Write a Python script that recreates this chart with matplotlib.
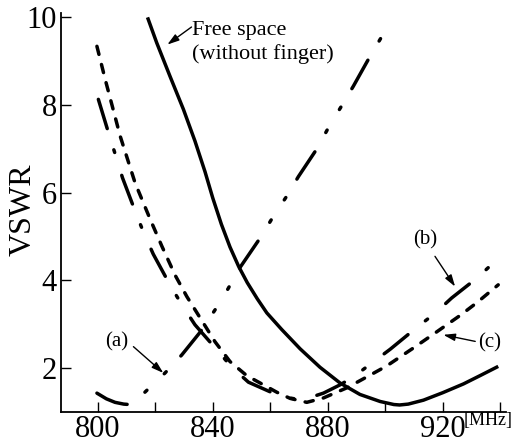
import matplotlib
matplotlib.use("Agg")
import matplotlib.pyplot as plt

plt.rcParams['font.family'] = ['Liberation Serif', 'DejaVu Serif']

# free space (without finger)
freq_free = [817.3, 820.5, 825.1, 829.8, 833.8, 837.3, 840, 843, 846, 849, 852, 855.5, 858.8,
             864, 870.4, 877.3, 884.3, 891.2, 898.2, 903, 905, 908, 913.3, 920, 927.2, 933, 939.3]
vswr_free = [10.0, 9.42, 8.66, 7.90, 7.18, 6.48, 5.88, 5.28, 4.76, 4.32, 3.95, 3.58, 3.26,
             2.88, 2.44, 2.02, 1.66, 1.40, 1.24, 1.17, 1.16, 1.18, 1.27, 1.44, 1.64, 1.83, 2.04]

# (a)
freq_a = [799.7, 803, 806, 809, 811, 814, 817, 823.4, 829.2, 835.6, 840.8, 845.4,
          848.9, 856.5, 860.5, 865.5, 869.8, 876.2, 880.2, 884.9, 888.9, 894.7, 899.4]
vswr_a = [1.43, 1.30, 1.22, 1.18, 1.17, 1.30, 1.49, 1.89, 2.30, 2.82, 3.33, 3.82,
          4.24, 4.97, 5.40, 5.90, 6.37, 7.0, 7.48, 7.99, 8.43, 9.11, 9.63]

# (b)
freq_b = [800.2, 803.9, 806.3, 808.6, 813, 815.9, 819.3, 825.1, 829.2, 833.8, 841.4, 846.5,
          852.4, 863.4, 871, 878.5, 884.3, 888.9, 901.7, 911, 917.3, 923.1, 931.8, 938.8]
vswr_b = [8.13, 7.33, 6.83, 6.34, 5.58, 5.10, 4.60, 3.90, 3.45, 2.99, 2.42, 2.03,
          1.68, 1.36, 1.27, 1.43, 1.62, 1.80, 2.43, 2.93, 3.25, 3.60, 4.05, 4.47]

# (c)
freq_c = [799.7, 802.6, 807.8, 813, 818.2, 822.3, 826.9, 831, 840.8, 846, 851.8, 862.3,
          866.9, 872.7, 878.5, 886.6, 893.6, 900.5, 909.8, 917.3, 926, 932, 939.3]
vswr_c = [9.34, 8.58, 7.29, 6.22, 5.40, 4.78, 4.12, 3.63, 2.60, 2.15, 1.83, 1.45,
          1.31, 1.22, 1.32, 1.55, 1.80, 2.05, 2.46, 2.80, 3.20, 3.50, 3.90]

xticks = [800, 820, 840, 860, 880, 900, 920, 940]
xlabels = ['800', '', '840', '', '880', '', '920', '']
yticks = [2, 4, 6, 8, 10]

fig = plt.figure(figsize=(5.16, 4.43), dpi=100)
ax = fig.add_axes([0.1182, 0.070, 0.8624, 0.9007])

lw = 2.5
ax.plot(freq_free, vswr_free, color='black', lw=lw, solid_capstyle='butt',
        solid_joinstyle='round')
ax.plot(freq_a, vswr_a, color='black', lw=lw, dash_capstyle='round',
        dashes=(9.4, 6.4, 0.8, 6.9, 0.8, 6.2))
ax.plot(freq_b, vswr_b, color='black', lw=lw, dash_capstyle='round',
        dashes=(8.8, 6.4, 0.8, 6.9))
ax.plot(freq_c, vswr_c, color='black', lw=lw, dash_capstyle='round',
        dashes=(2.4, 3.0))

ax.set_xlim(787.2, 942)
ax.set_ylim(1.0, 10.1)
ax.set_xticks(xticks)
ax.set_xticklabels(xlabels)
ax.set_yticks(yticks)
ax.tick_params(direction='in', length=7, width=1, labelsize=22, pad=3)
ax.tick_params(axis='x', pad=2)
for s in ['top', 'right']:
    ax.spines[s].set_visible(False)
for s in ['left', 'bottom']:
    ax.spines[s].set_linewidth(1.3)

fig.text(0.0446, 0.526, 'VSWR', rotation=90, ha='center', va='center', fontsize=23)
ax.text(935.8, 0.80, '[MHz]', ha='center', va='center', fontsize=13, clip_on=False)

arrow = dict(arrowstyle='-|>,head_length=0.7,head_width=0.22', color='black', lw=1,
             shrinkA=0, shrinkB=0)
ax.text(832.8, 9.92, 'Free space\n(without finger)', ha='left', va='top', fontsize=16,
        linespacing=1.3)
ax.annotate('', xy=(824.2, 9.38), xytext=(832.6, 9.78), arrowprops=arrow)

ax.text(806.6, 2.61, '(a)', ha='center', va='center', fontsize=15)
ax.annotate('', xy=(822.8, 1.89), xytext=(812.4, 2.49), arrowprops=arrow)

ax.text(913.8, 4.93, '(b)', ha='center', va='center', fontsize=15)
ax.annotate('', xy=(924.3, 3.86), xytext=(917.3, 4.55), arrowprops=arrow)

ax.text(936.2, 2.57, '(c)', ha='center', va='center', fontsize=15)
ax.annotate('', xy=(920.2, 2.76), xytext=(931.3, 2.61), arrowprops=arrow)

fig.savefig('out.png', dpi=100)
